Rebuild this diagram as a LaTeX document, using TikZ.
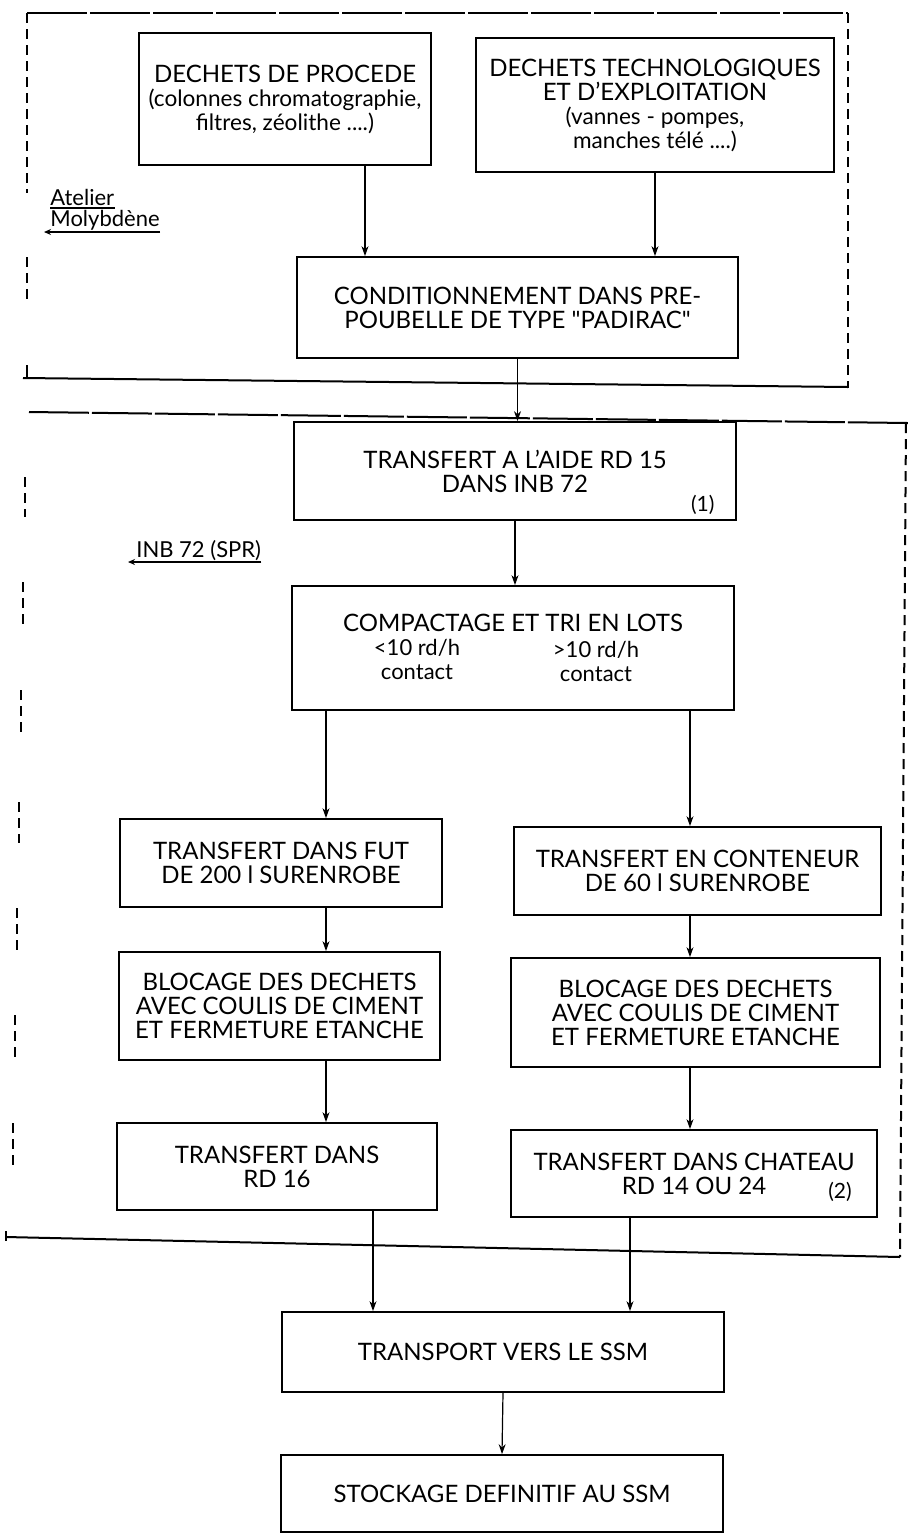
\documentclass[tikz,border=0pt]{standalone}
\usepackage{fontspec}
\setmainfont{Lato}
\usetikzlibrary{arrows.meta}

\tikzset{
  stepbox/.style={draw, line width=0.9pt, align=center, inner sep=2pt,
    font=\fontsize{12}{12}\selectfont},
  flow/.style={-{Stealth[length=5pt,width=3.5pt]}, line width=0.6pt},
  tagarrow/.style={-{Stealth[length=3.5pt,width=3pt]}, line width=0.6pt},
  frameline/.style={line width=1pt},
  framedash/.style={line width=1pt, dash pattern=on 5pt off 3pt},
  longdash/.style={line width=1pt, dash pattern=on 30pt off 1.5pt},
  zone/.style={font=\fontsize{11}{12}\selectfont, inner sep=0pt},
  note/.style={font=\fontsize{10.5}{12}\selectfont, inner sep=1pt},
}
\newcommand{\lowtxt}{\fontsize{11.3}{12}\selectfont}

\begin{document}
\begin{tikzpicture}[x=0.5pt, y=-0.5pt]
\useasboundingbox (0,0) rectangle (908,1538);

% columns of the vertical connectors
\coordinate (acol) at (365,0);
\coordinate (lcol) at (326,0);
\coordinate (rcol) at (690,0);
\coordinate (jcol) at (373,0);
\coordinate (kcol) at (630,0);

% Upper zone: the molybdenum workshop
\draw[longdash] (27,13) -- (848,13);
\draw[framedash] (848,13) -- (848,388);
\draw[framedash] (27,13) -- (27,193);
\draw[framedash] (27,257) -- (27,303);
\draw[frameline] (27,365) -- (27,378);
\draw[frameline] (23,378) -- (848,387);

\node[zone, anchor=base west] (atelier) at (50,205) {Atelier};
\node[zone, anchor=base west] (molyb) at (50,226) {Molybdène};
\draw[line width=0.6pt] ([yshift=-1.5pt]atelier.base west) -- ([yshift=-1.5pt]atelier.base east);
\draw[tagarrow] ([yshift=-3pt]molyb.base east) -- ([xshift=-3pt,yshift=-3pt]molyb.base west);

\node[stepbox, minimum width=146pt, minimum height=66pt] (procede) at (285,99)
  {DECHETS DE PROCEDE\\{\lowtxt(colonnes chromatographie,}\\{\lowtxt filtres, zéolithe ....)}};
\node[stepbox, minimum width=179pt, minimum height=67pt] (techno) at (655,105)
  {DECHETS TECHNOLOGIQUES\\ET D'EXPLOITATION\\{\lowtxt(vannes - pompes,}\\{\lowtxt manches télé ....)}};
\node[stepbox, minimum width=220.5pt, minimum height=50.5pt] (padirac) at (517.5,307.5)
  {CONDITIONNEMENT DANS PRE-\\POUBELLE DE TYPE \textquotedbl PADIRAC\textquotedbl};

% Lower zone: INB 72
\draw[longdash] (29,412) -- (908,423);
\draw[framedash] (906,423) -- (900,1257);
\draw[frameline] (6,1237) -- (900,1257);
\draw[frameline] (6,1231) -- (6,1241);
\foreach \ya/\yb/\xx in {477/517/25, 582/628/23, 690/735/21, 802/843/19,
                         908/950/17, 1015/1062/15, 1123/1168/13}
  \draw[framedash] (\xx,\ya) -- (\xx,\yb);

\node[zone, anchor=base west] (inb) at (136,557) {INB 72 (SPR)};
\draw[tagarrow] ([yshift=-2.5pt]inb.base east) -- ([xshift=-4pt,yshift=-2.5pt]inb.base west);

\node[stepbox, minimum width=221pt, minimum height=49pt] (rd15) at (515,471)
  {TRANSFERT A L'AIDE RD 15\\DANS INB 72};
\node[note, anchor=south east] (note1) at ([xshift=-10pt,yshift=2pt]rd15.south east) {(1)};

\node[stepbox, minimum width=221pt, minimum height=62pt] (tri) at (513,648) {};
\node[stepbox, draw=none, inner sep=0pt] (tritxt) at (513,623) {COMPACTAGE ET TRI EN LOTS};
\node[zone, align=center] (lowdose) at (417,659) {<10 rd/h\\contact};
\node[zone, align=center] (highdose) at (596,661) {>10 rd/h\\contact};

\node[stepbox, minimum width=161pt, minimum height=44pt] (fut) at (281,863)
  {TRANSFERT DANS FUT\\DE 200 l SURENROBE};
\node[stepbox, minimum width=183.5pt, minimum height=44pt] (conteneur) at (697.5,871)
  {TRANSFERT EN CONTENEUR\\DE 60 l SURENROBE};
\node[stepbox, minimum width=160.5pt, minimum height=54pt] (blocA) at (279.5,1006)
  {BLOCAGE DES DECHETS\\AVEC COULIS DE CIMENT\\ET FERMETURE ETANCHE};
\node[stepbox, minimum width=184.5pt, minimum height=54.5pt] (blocB) at (695.5,1012.5)
  {BLOCAGE DES DECHETS\\AVEC COULIS DE CIMENT\\ET FERMETURE ETANCHE};
\node[stepbox, minimum width=160pt, minimum height=43.5pt] (rd16) at (277,1166.5)
  {TRANSFERT DANS\\RD 16};
\node[stepbox, minimum width=183pt, minimum height=43.5pt] (chateau) at (694,1173.5)
  {TRANSFERT DANS CHATEAU\\RD 14 OU 24};
\node[note] (note2) at (840,1192) {(2)};

% Outside the zones
\node[stepbox, minimum width=221pt, minimum height=40pt] (ssm) at (503,1352)
  {TRANSPORT VERS LE SSM};
\node[stepbox, minimum width=221pt, minimum height=38.5pt] (stockage) at (502,1493.5)
  {STOCKAGE DEFINITIF AU SSM};

% connectors
\draw[flow] (procede.south -| acol) -- (padirac.north -| acol);
\draw[flow] (techno.south) -- (techno.south |- padirac.north);
\draw[flow] (padirac.south) -- (padirac.south |- rd15.north);
\draw[flow] (rd15.south) -- (rd15.south |- tri.north);
\draw[flow] (tri.south -| lcol) -- (fut.north -| lcol);
\draw[flow] (tri.south -| rcol) -- (conteneur.north -| rcol);
\draw[flow] (fut.south -| lcol) -- (blocA.north -| lcol);
\draw[flow] (conteneur.south -| rcol) -- (blocB.north -| rcol);
\draw[flow] (blocA.south -| lcol) -- (rd16.north -| lcol);
\draw[flow] (blocB.south -| rcol) -- (chateau.north -| rcol);
\draw[flow] (rd16.south -| jcol) -- (ssm.north -| jcol);
\draw[flow] (chateau.south -| kcol) -- (ssm.north -| kcol);
\draw[flow] (ssm.south) -- (stockage.north);
\end{tikzpicture}
\end{document}
